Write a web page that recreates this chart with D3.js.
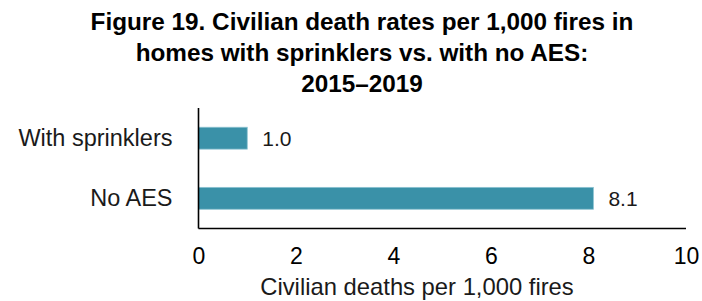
<!DOCTYPE html>
<html>
<head>
<meta charset="utf-8">
<script src="https://cdn.jsdelivr.net/npm/d3@7"></script>
<style>
  body { margin: 0; background: #fff; }
  svg { display: block; font-family: "Liberation Sans", Arial, sans-serif; }
</style>
</head>
<body>
<svg width="702" height="301"></svg>
<script>
// data
const categories = ["With sprinklers", "No AES"];
const values = [1.0, 8.1];
const xTicks = [0, 2, 4, 6, 8, 10];
const titleLines = [
  "Figure 19. Civilian death rates per 1,000 fires in",
  "homes with sprinklers vs. with no AES:",
  "2015\u20132019"
];

var svg = d3.select("svg"),
  plotLeft = 198.5,
  plotRight = 686,
  plotTop = 108,
  plotBottom = 228.5;

// ===========================================================================
// TITLE
// ===========================================================================
svg.append("g")
  .selectAll("text")
  .data(titleLines)
  .enter()
  .append("text")
  .attr("x", 362)
  .attr("y", (d, i) => 30 + i * 31)
  .attr("text-anchor", "middle")
  .style("font-size", "24.3px")
  .style("font-weight", "bold")
  .style("fill", "#000")
  .text((d) => d);

// ===========================================================================
// SCALES
// ===========================================================================
var xScale = d3.scaleLinear().domain([0, 10]).range([plotLeft, plotRight]);

var yScale = d3.scaleBand()
  .domain(categories)
  .range([plotTop, plotBottom])
  .paddingInner(0.636)
  .paddingOuter(0.32);

// ===========================================================================
// BARS
// ===========================================================================
svg.selectAll(".bar")
  .data(values)
  .enter()
  .append("rect")
  .attr("class", "bar")
  .attr("x", xScale(0))
  .attr("y", (d, i) => yScale(categories[i]))
  .attr("width", (d) => xScale(d) - xScale(0))
  .attr("height", yScale.bandwidth())
  .style("fill", "#3a91a8")
  .style("stroke", "#8cc3d1")
  .style("stroke-width", 0.8);

// value labels
svg.selectAll(".val")
  .data(values)
  .enter()
  .append("text")
  .attr("class", "val")
  .attr("x", (d) => xScale(d) + 15)
  .attr("y", (d, i) => yScale(categories[i]) + yScale.bandwidth() / 2)
  .attr("dy", "0.35em")
  .style("font-size", "21px")
  .style("fill", "#1a1a1a")
  .text((d) => d.toFixed(1));

// ===========================================================================
// AXES
// ===========================================================================
var xAxis = svg.append("g")
  .attr("transform", "translate(0," + plotBottom + ")")
  .call(d3.axisBottom(xScale).tickValues(xTicks).tickSize(0).tickPadding(19));
xAxis.select(".domain").attr("d", "M" + plotLeft + ",0H" + plotRight).style("stroke", "#000").style("stroke-width", 1.6);
xAxis.selectAll("text").style("font-size", "23px").style("fill", "#000").style("font-family", "inherit");

var yAxis = svg.append("g")
  .attr("transform", "translate(" + plotLeft + ",0)")
  .call(d3.axisLeft(yScale).tickSize(0).tickPadding(26));
yAxis.select(".domain").attr("d", "M0," + plotTop + "V" + plotBottom).style("stroke", "#000").style("stroke-width", 1.6);
yAxis.selectAll("text").style("font-size", "23.5px").style("fill", "#1a1a1a").style("font-family", "inherit");

// ===========================================================================
// LABELS
// ===========================================================================
svg.append("text")
  .attr("x", 417)
  .attr("y", 295)
  .attr("text-anchor", "middle")
  .style("font-size", "23.8px")
  .style("fill", "#1a1a1a")
  .text("Civilian deaths per 1,000 fires");
</script>
</body>
</html>
